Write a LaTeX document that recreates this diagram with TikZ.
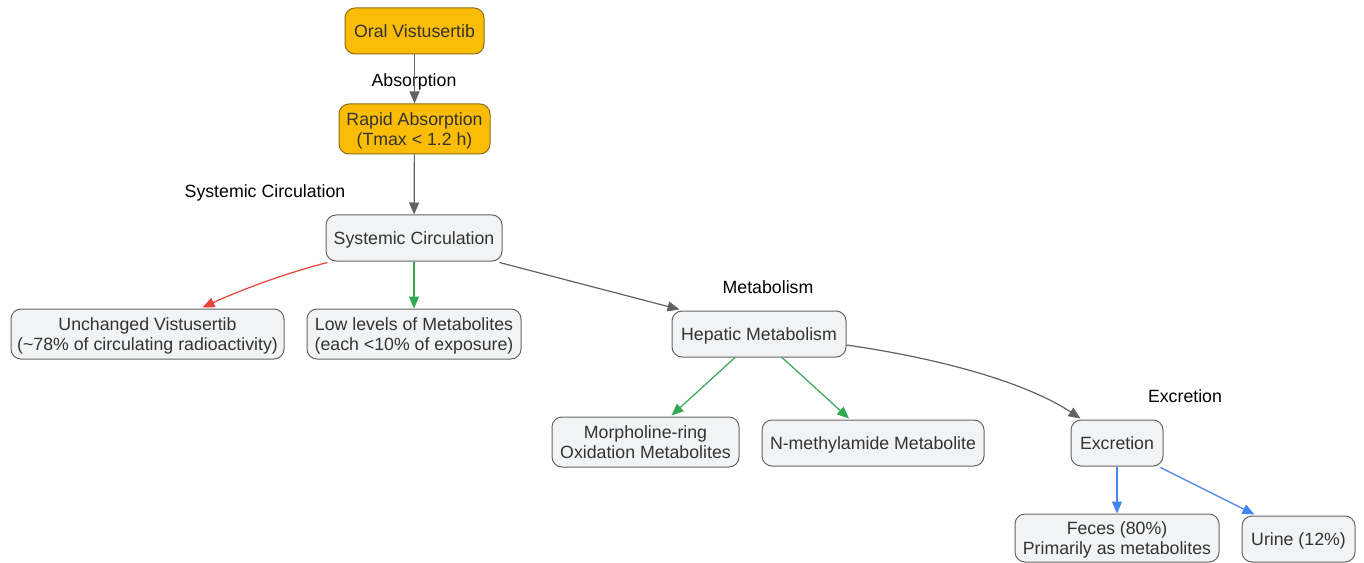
\documentclass[tikz,border=0pt]{standalone}
\usepackage{fontspec}
\setmainfont{Liberation Sans}
\usetikzlibrary{arrows.meta,calc}
\definecolor{amber}{HTML}{FBBC05}
\definecolor{amberline}{HTML}{8A6D1A}
\definecolor{nodegray}{HTML}{F1F3F4}
\definecolor{boxline}{HTML}{666666}
\definecolor{textdark}{HTML}{333333}
\definecolor{edgegray}{HTML}{5F6368}
\definecolor{ered}{HTML}{EA4335}
\definecolor{egreen}{HTML}{34A853}
\definecolor{eblue}{HTML}{4285F4}
\begin{document}
\begin{tikzpicture}[x=0.75pt,y=-0.75pt,
  box/.style={draw=boxline, fill=nodegray, rounded corners=7.5pt, line width=0.75pt, inner sep=0pt, align=center, font=\fontsize{13.3}{14.6}\selectfont, text=textdark, text depth=0pt},
  obox/.style={box, fill=amber, draw=amberline},
  lbl/.style={font=\fontsize{13.3}{14.6}\selectfont, text=black, inner sep=0pt, text depth=0pt},
  edge/.style={line width=0.9pt, draw=edgegray, -{Triangle[length=9pt,width=7.5pt]}},
  redge/.style={edge, draw=ered, -{Triangle[length=9pt,width=7.5pt,fill=ered]}},
  gedge/.style={edge, draw=egreen},
  bedge/.style={edge, draw=eblue}]
\useasboundingbox (0,0) rectangle (1364,563);
\fill[white] (0,0) rectangle (1364,563);
% nodes
\node[obox, minimum width=104.25pt, minimum height=34.5pt] (oral) at (414.5,31) {Oral Vistusertib};
\node[obox, minimum width=113.25pt, minimum height=37.5pt] (rapid) at (414.5,129) {Rapid Absorption\\(Tmax < 1.2 h)};
\node[box, minimum width=132pt, minimum height=34.5pt] (sys) at (414,238) {Systemic Circulation};
\node[box, minimum width=204.75pt, minimum height=37.5pt] (unch) at (147.5,334) {Unchanged Vistusertib\\(\textasciitilde78\% of circulating radioactivity)};
\node[box, minimum width=160.5pt, minimum height=37.5pt] (low) at (414,334) {Low levels of Metabolites\\(each <10\% of exposure)};
\node[box, minimum width=130.5pt, minimum height=34.5pt] (hep) at (759,334) {Hepatic Metabolism};
\node[box, minimum width=140.25pt, minimum height=37.5pt] (morph) at (645.5,442) {Morpholine-ring\\Oxidation Metabolites};
\node[box, minimum width=166.5pt, minimum height=34.5pt] (nmeth) at (873,443) {N-methylamide Metabolite};
\node[box, minimum width=69pt, minimum height=34.5pt] (exc) at (1117,443) {Excretion};
\node[box, minimum width=153pt, minimum height=36pt] (feces) at (1117,538) {Feces (80\%)\\Primarily as metabolites};
\node[box, minimum width=84.75pt, minimum height=34.5pt] (urine) at (1298.5,539) {Urine (12\%)};
% labels
\node[lbl] (labs) at (414,80) {Absorption};
\node[lbl] (lsys) at (265,191) {Systemic Circulation};
\node[lbl] (lmet) at (768,287) {Metabolism};
\node[lbl] (lexc) at (1185,396) {Excretion};
% edges
\draw[edge] (oral) -- (rapid);
\draw[edge] (rapid) -- (sys);
\draw[redge] ($(sys.south west)+(2,1)$) .. controls (290,272) and (245,288) .. ($(unch.north)+(55,-1)$);
\draw[gedge] (sys) -- (low);
\draw[edge] ($(sys.south east)+(-3,1)$) -- ($(hep.north west)+(8,-1)$);
\draw[gedge] ($(hep.south)+(-24,0)$) -- ($(morph.north)+(26,-1)$);
\draw[gedge] ($(hep.south)+(23,0)$) -- ($(nmeth.north)+(-24,-1)$);
\draw[edge] ($(hep.east)+(0,11)$) .. controls (950,360) and (1030,385) .. ($(exc.north west)+(10,-1)$);
\draw[bedge] (exc) -- (feces);
\draw[bedge] ($(exc.south east)+(-3,1)$) -- ($(urine.north west)+(13,-1)$);
\end{tikzpicture}
\end{document}
